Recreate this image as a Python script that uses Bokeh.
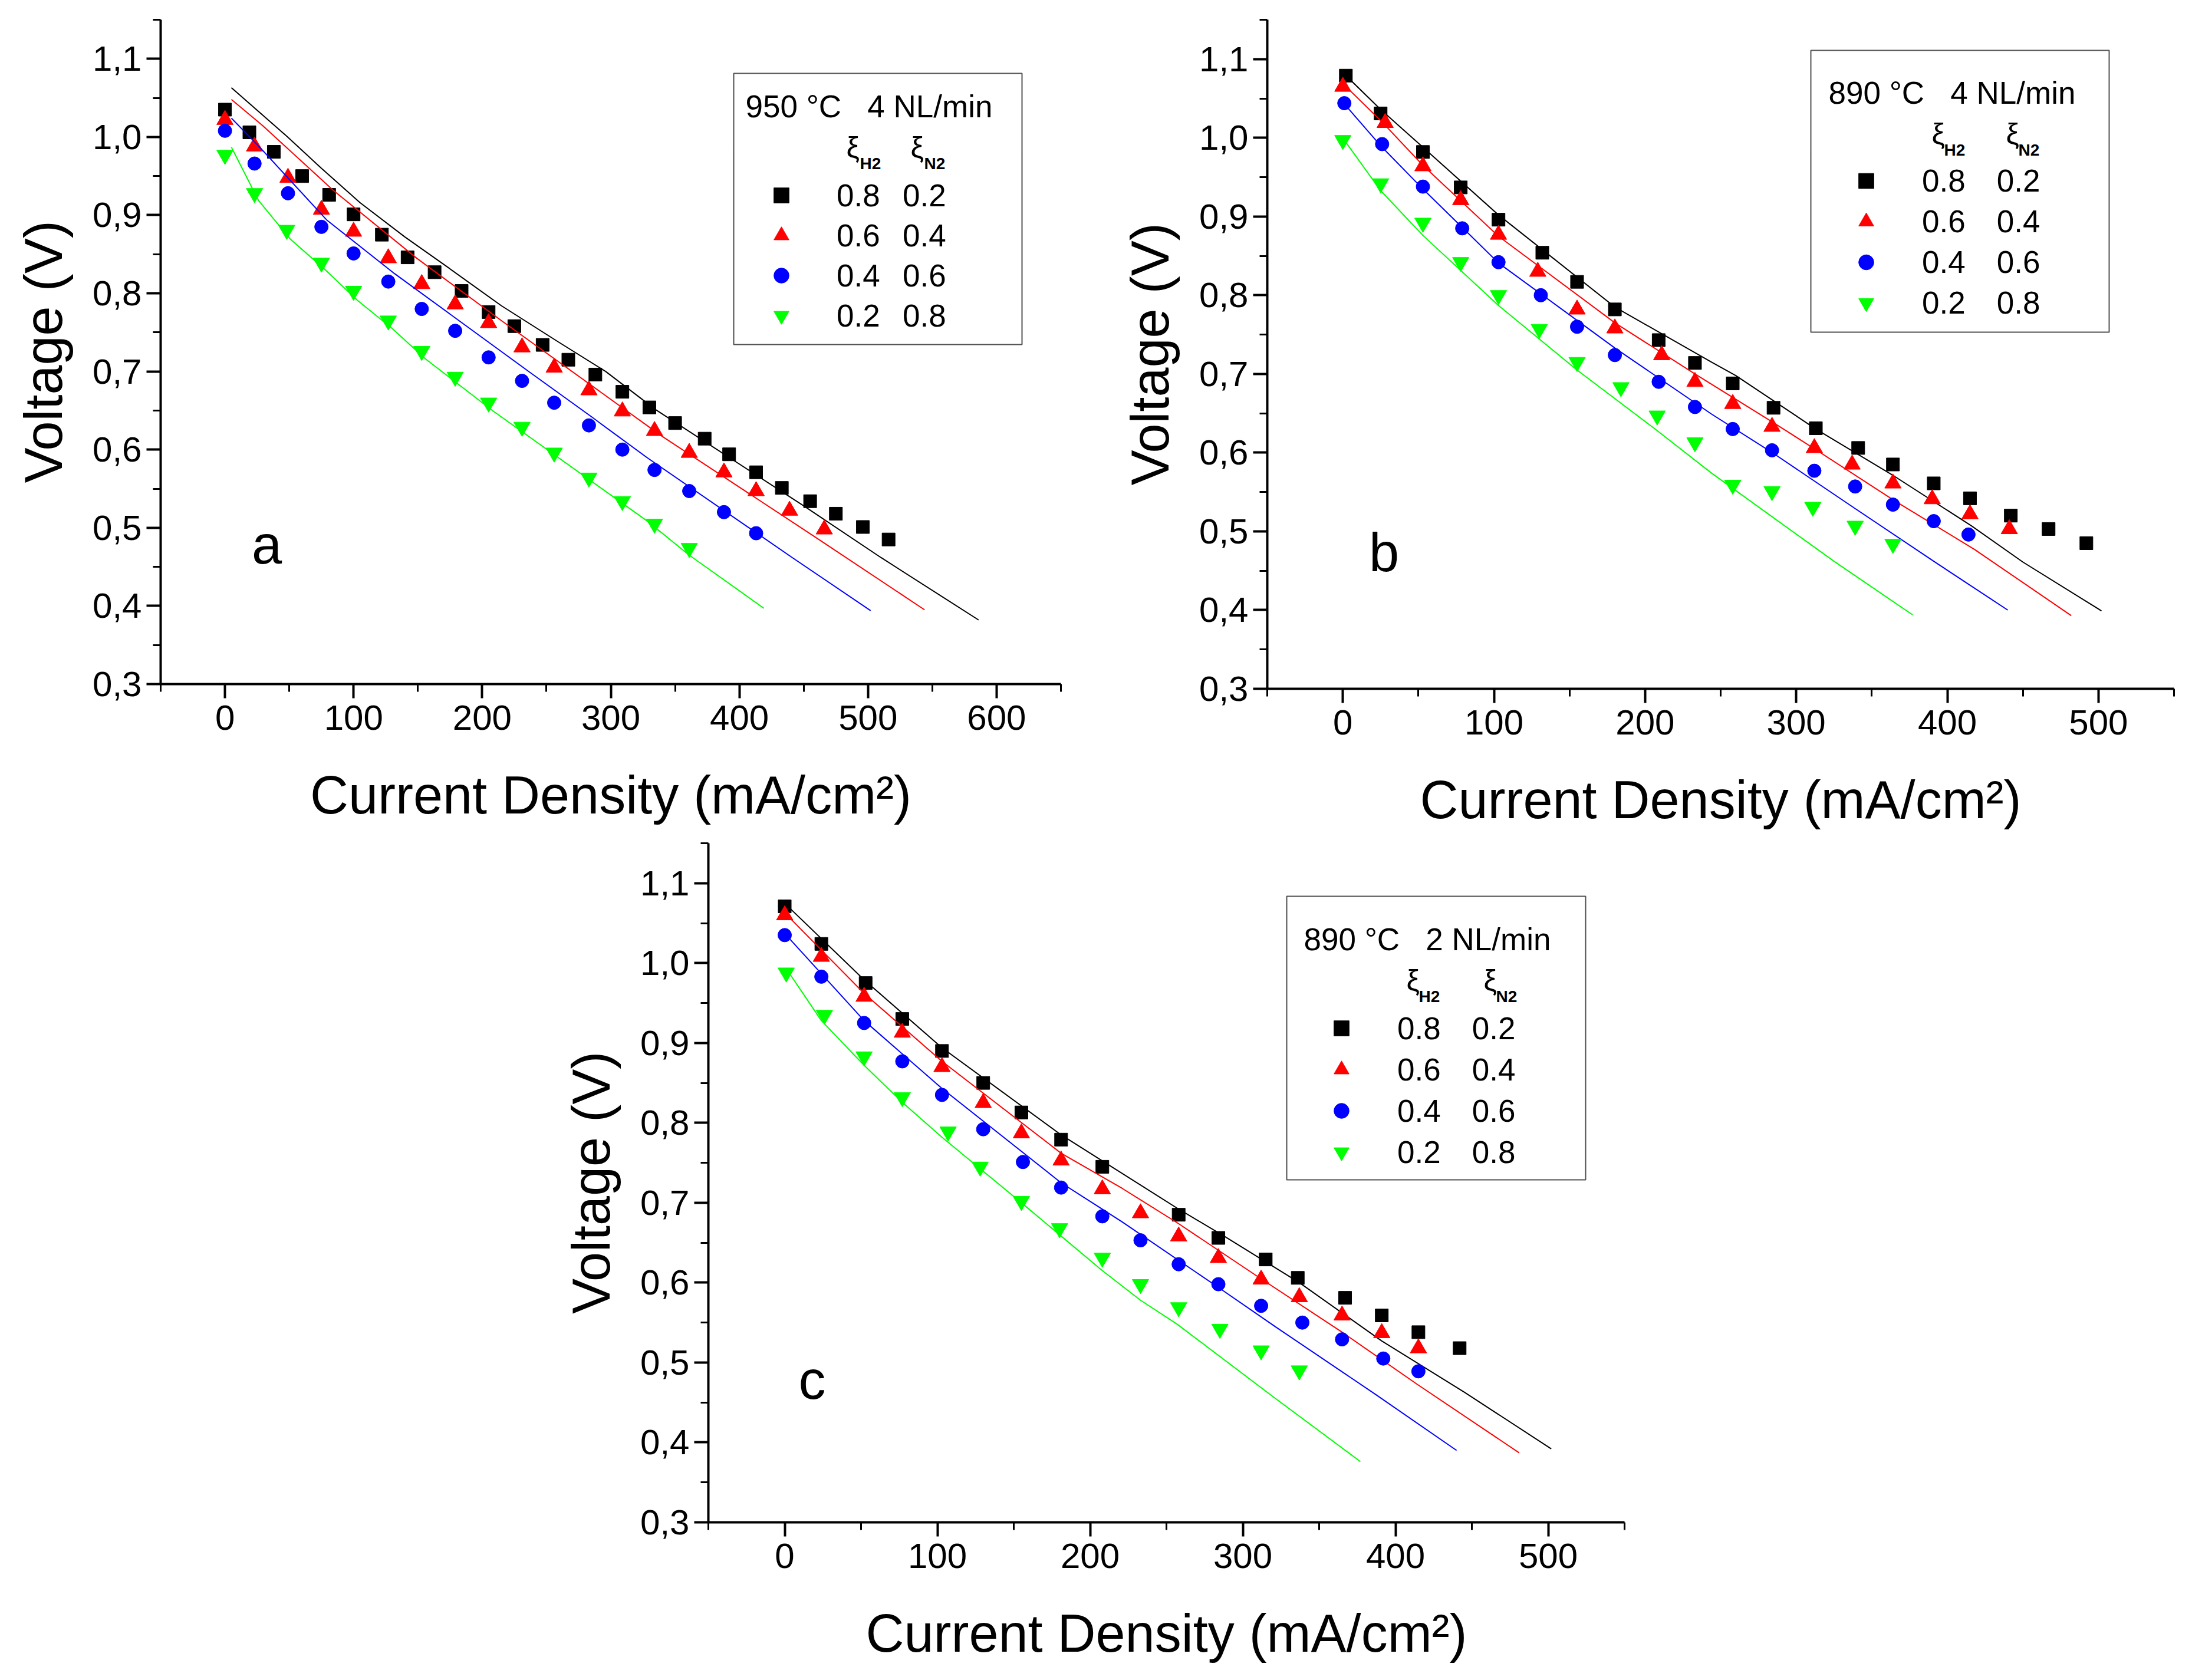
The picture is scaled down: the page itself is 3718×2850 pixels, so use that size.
from bokeh.plotting import figure
from bokeh.models import (Range1d, FixedTicker, CustomJSTickFormatter, Legend, LegendItem,
                          Label, BoxAnnotation, Spacer)
from bokeh.layouts import column, row
from bokeh.embed import file_html
from bokeh.resources import INLINE

FONT = "Liberation Sans"

# ---------------- data ----------------
# axis ticks
Y_MAJOR = [0.3, 0.4, 0.5, 0.6, 0.7, 0.8, 0.9, 1.0, 1.1]
Y_MINOR = [0.35, 0.45, 0.55, 0.65, 0.75, 0.85, 0.95, 1.05, 1.15]
XA_MAJOR = [0, 100, 200, 300, 400, 500, 600]
XA_MINOR = [-50, 50, 150, 250, 350, 450, 550, 650]
XB_MAJOR = [0, 100, 200, 300, 400, 500]
XB_MINOR = [-50, 50, 150, 250, 350, 450, 550]

SERIES_H2 = ["0.8", "0.6", "0.4", "0.2"]
SERIES_N2 = ["0.2", "0.4", "0.6", "0.8"]
TEMPS = ["950 \u00b0C", "890 \u00b0C", "890 \u00b0C"]
FLOWS = ["4 NL/min", "4 NL/min", "2 NL/min"]
PANEL_LETTERS = ["a", "b", "c"]
X_TITLE = "Current Density (mA/cm\u00b2)"
Y_TITLE = "Voltage (V)"

# panel a (950 C, 4 NL/min)
A_SQ_X = [0, 19, 38, 60, 81, 100, 122, 142, 163, 184, 205, 225, 247, 267, 288, 309, 330, 350, 373, 392, 413, 433, 455, 475, 496, 516]
A_SQ_Y = [1.035, 1.006, 0.981, 0.950, 0.926, 0.901, 0.875, 0.846, 0.827, 0.803, 0.776, 0.758, 0.734, 0.715, 0.696, 0.674, 0.654, 0.634, 0.614, 0.594, 0.571, 0.551, 0.534, 0.518, 0.501, 0.485]
A_TR_X = [0, 23, 49, 75, 100, 127, 153, 179, 205, 231, 256, 283, 309, 334, 361, 388, 413, 439, 466]
A_TR_Y = [1.022, 0.988, 0.948, 0.907, 0.879, 0.845, 0.812, 0.786, 0.762, 0.731, 0.705, 0.676, 0.649, 0.624, 0.596, 0.571, 0.547, 0.522, 0.498]
A_CI_X = [0, 23, 49, 75, 100, 127, 153, 179, 205, 231, 256, 283, 309, 334, 361, 388, 413]
A_CI_Y = [1.008, 0.966, 0.928, 0.885, 0.851, 0.815, 0.780, 0.752, 0.718, 0.688, 0.660, 0.631, 0.600, 0.574, 0.547, 0.520, 0.493]
A_IT_X = [0, 23, 48, 75, 100, 127, 153, 179, 205, 231, 256, 283, 309, 334, 361]
A_IT_Y = [0.977, 0.928, 0.881, 0.839, 0.803, 0.765, 0.726, 0.693, 0.660, 0.629, 0.596, 0.564, 0.534, 0.505, 0.474]
A_FK_X = [5, 48, 75, 105, 140, 171, 215, 259, 296, 335, 450, 510, 586]
A_FK_Y = [1.063, 1.001, 0.960, 0.916, 0.872, 0.836, 0.784, 0.738, 0.700, 0.651, 0.528, 0.462, 0.382]
A_FR_X = [5, 29, 84, 149, 215, 296, 339, 460, 544]
A_FR_Y = [1.048, 1.015, 0.932, 0.845, 0.765, 0.669, 0.618, 0.487, 0.395]
A_FB_X = [5, 27, 79, 132, 182, 237, 285, 328, 441, 502]
A_FB_Y = [1.024, 0.987, 0.894, 0.825, 0.765, 0.699, 0.642, 0.590, 0.462, 0.394]
A_FG_X = [5, 26, 51, 78, 103, 130, 156, 182, 208, 328, 361, 419]
A_FG_Y = [0.987, 0.919, 0.869, 0.830, 0.791, 0.755, 0.716, 0.683, 0.650, 0.509, 0.465, 0.397]

# panel b (890 C, 4 NL/min)
B_SQ_X = [2, 25, 53, 78, 103, 132, 155, 180, 209, 233, 258, 285, 313, 341, 364, 391, 415, 442, 467, 492]
B_SQ_Y = [1.079, 1.031, 0.982, 0.937, 0.896, 0.854, 0.817, 0.782, 0.743, 0.714, 0.688, 0.657, 0.631, 0.606, 0.585, 0.561, 0.542, 0.520, 0.503, 0.485]
B_TR_X = [0, 28, 53, 78, 103, 129, 155, 180, 211, 233, 258, 284, 312, 337, 364, 390, 415, 441]
B_TR_Y = [1.065, 1.019, 0.964, 0.921, 0.877, 0.830, 0.782, 0.758, 0.724, 0.690, 0.662, 0.633, 0.606, 0.585, 0.561, 0.541, 0.522, 0.503]
B_CI_X = [1, 26, 53, 79, 103, 131, 155, 180, 209, 233, 258, 284, 312, 339, 364, 391, 414]
B_CI_Y = [1.044, 0.992, 0.938, 0.885, 0.842, 0.800, 0.760, 0.724, 0.690, 0.658, 0.630, 0.603, 0.577, 0.557, 0.534, 0.513, 0.496]
B_IT_X = [0, 25, 53, 78, 103, 130, 155, 184, 208, 233, 258, 284, 311, 339, 364]
B_IT_Y = [0.997, 0.942, 0.892, 0.842, 0.800, 0.757, 0.715, 0.683, 0.647, 0.613, 0.559, 0.551, 0.531, 0.507, 0.484]
B_FK_X = [1, 25, 53, 103, 180, 244, 260, 313, 365, 416, 450, 502]
B_FK_Y = [1.081, 1.036, 0.988, 0.902, 0.785, 0.715, 0.698, 0.630, 0.570, 0.507, 0.461, 0.399]
B_FR_X = [1, 25, 53, 103, 180, 233, 285, 312, 365, 418, 482]
B_FR_Y = [1.067, 1.022, 0.965, 0.875, 0.765, 0.700, 0.638, 0.605, 0.539, 0.477, 0.393]
B_FB_X = [1, 25, 53, 103, 180, 244, 285, 339, 391, 440]
B_FB_Y = [1.043, 0.990, 0.935, 0.841, 0.733, 0.649, 0.599, 0.529, 0.462, 0.400]
B_FG_X = [1, 25, 53, 103, 155, 208, 244, 325, 377]
B_FG_Y = [0.997, 0.933, 0.876, 0.787, 0.705, 0.628, 0.574, 0.462, 0.394]

# panel c (890 C, 2 NL/min)
C_SQ_X = [0, 24, 53, 77, 103, 130, 155, 181, 208, 258, 284, 315, 336, 367, 391, 415, 442]
C_SQ_Y = [1.071, 1.024, 0.975, 0.930, 0.890, 0.850, 0.813, 0.779, 0.745, 0.685, 0.656, 0.629, 0.606, 0.581, 0.559, 0.538, 0.518]
C_TR_X = [0, 24, 52, 77, 103, 130, 155, 181, 208, 233, 258, 284, 312, 337, 365, 391, 415]
C_TR_Y = [1.060, 1.008, 0.958, 0.913, 0.870, 0.825, 0.787, 0.753, 0.717, 0.687, 0.658, 0.631, 0.604, 0.582, 0.559, 0.537, 0.518]
C_CI_X = [0, 24, 52, 77, 103, 130, 156, 181, 208, 233, 258, 284, 312, 339, 365, 392, 415]
C_CI_Y = [1.035, 0.983, 0.925, 0.877, 0.835, 0.792, 0.751, 0.719, 0.683, 0.653, 0.623, 0.598, 0.571, 0.550, 0.529, 0.505, 0.489]
C_IT_X = [1, 26, 52, 77, 107, 128, 155, 180, 208, 233, 258, 285, 312, 337]
C_IT_Y = [0.988, 0.935, 0.883, 0.832, 0.789, 0.745, 0.702, 0.668, 0.631, 0.598, 0.569, 0.542, 0.515, 0.490]
C_FK_X = [1, 52, 103, 181, 258, 288, 337, 391, 445, 502]
C_FK_Y = [1.073, 0.979, 0.894, 0.785, 0.692, 0.658, 0.600, 0.527, 0.463, 0.392]
C_FR_X = [1, 52, 103, 181, 221, 257, 311, 365, 414, 481]
C_FR_Y = [1.061, 0.962, 0.877, 0.762, 0.718, 0.675, 0.606, 0.538, 0.473, 0.387]
C_FB_X = [1, 52, 103, 181, 221, 284, 322, 387, 440]
C_FB_Y = [1.035, 0.928, 0.843, 0.725, 0.676, 0.594, 0.544, 0.460, 0.390]
C_FG_X = [1, 24, 52, 78, 103, 155, 208, 233, 257, 320, 377]
C_FG_Y = [0.993, 0.928, 0.872, 0.824, 0.782, 0.700, 0.615, 0.578, 0.548, 0.457, 0.376]

COLORS = ["#000000", "#ff0000", "#0000ff", "#00ff00"]
MARKERS = ["square", "triangle", "circle", "inverted_triangle"]
MSIZE = [22, 28, 23, 28]

# ---------------- layout (pixels of the page) ----------------
PAGE = 8
Y0, Y1 = 0.3, 1.15
NB = "\u00a0"
PANELS = {
    "a": dict(left=280, top=41, w=1527, h=1127, xr=(-50, 650), major=XA_MAJOR, minor=XA_MINOR,
              bl=272, bt=33, br=90, bb=257,
              box=(1252, 132, 1741, 592), title=(1272, 202), xi=(1443, 1552), sub=(1466, 1575),
              xib=270, subb=292, row1=337, rowh=68.3, mk=1333, lab=1427, gap=NB * 2 + "\u2006",
              letter=(460, 955)),
    "b": dict(left=2157, top=36, w=1538, h=1135, xr=(-50, 550), major=XB_MAJOR, minor=XB_MINOR,
              bl=260, bt=28, br=12, bb=254,
              box=(3079, 88, 3585, 566), title=(3109, 174), xi=(3284, 3410), sub=(3305, 3431),
              xib=242, subb=264, row1=309, rowh=69, mk=3173, lab=3268, gap=NB * 3 + "\u2006",
              letter=(2355, 963)),
    "c": dict(left=1209, top=1438, w=1554, h=1152, xr=(-50, 550), major=XB_MAJOR, minor=XB_MINOR,
              bl=272, bt=13, br=20, bb=248,
              box=(2190, 1528, 2697, 2009), title=(2219, 1615), xi=(2393, 2524), sub=(2414, 2545),
              xib=1683, subb=1705, row1=1750, rowh=70.3, mk=2283, lab=2378, gap=NB * 3 + "\u2006",
              letter=(1385, 2372)),
}
# the SVG text of a Label sits a little low against its alphabetic baseline
BASE_SHIFT = 0.26

DATA = {
    "a": [(A_SQ_X, A_SQ_Y, A_FK_X, A_FK_Y), (A_TR_X, A_TR_Y, A_FR_X, A_FR_Y),
          (A_CI_X, A_CI_Y, A_FB_X, A_FB_Y), (A_IT_X, A_IT_Y, A_FG_X, A_FG_Y)],
    "b": [(B_SQ_X, B_SQ_Y, B_FK_X, B_FK_Y), (B_TR_X, B_TR_Y, B_FR_X, B_FR_Y),
          (B_CI_X, B_CI_Y, B_FB_X, B_FB_Y), (B_IT_X, B_IT_Y, B_FG_X, B_FG_Y)],
    "c": [(C_SQ_X, C_SQ_Y, C_FK_X, C_FK_Y), (C_TR_X, C_TR_Y, C_FR_X, C_FR_Y),
          (C_CI_X, C_CI_Y, C_FB_X, C_FB_Y), (C_IT_X, C_IT_Y, C_FG_X, C_FG_Y)],
}


def make_panel(key, idx):
    P = PANELS[key]
    x0, x1 = P["xr"]

    def dx(px):
        return x0 + (px - P["left"]) / P["w"] * (x1 - x0)

    def dy(py):
        return Y1 - (py - P["top"]) / P["h"] * (Y1 - Y0)

    def text(px, pyb, s, size, **kw):
        # pyb: alphabetic baseline in page pixels
        return Label(x=dx(px), y=dy(pyb - BASE_SHIFT * size), text=s, text_font=FONT,
                     text_font_size=f"{size}px", text_baseline="alphabetic",
                     text_color="black", **kw)

    p = figure(frame_width=P["w"], frame_height=P["h"],
               x_range=Range1d(x0, x1), y_range=Range1d(Y0, Y1),
               output_backend="svg", toolbar_location=None,
               min_border_left=P["bl"], min_border_right=P["br"],
               min_border_top=P["bt"], min_border_bottom=P["bb"],
               background_fill_color="white", border_fill_color="white")
    p.grid.visible = False
    p.outline_line_color = None

    p.xaxis.ticker = FixedTicker(ticks=P["major"], minor_ticks=P["minor"])
    p.yaxis.ticker = FixedTicker(ticks=Y_MAJOR, minor_ticks=Y_MINOR)
    p.yaxis.formatter = CustomJSTickFormatter(code="return tick.toFixed(1).replace('.', ',');")
    p.xaxis.formatter = CustomJSTickFormatter(code="return tick.toFixed(0);")
    p.xaxis.axis_label = X_TITLE
    p.yaxis.axis_label = Y_TITLE
    for ax in (p.xaxis[0], p.yaxis[0]):
        ax.axis_line_width = 4
        ax.axis_line_color = "black"
        ax.major_tick_line_width = 4
        ax.minor_tick_line_width = 3
        ax.major_tick_line_color = "black"
        ax.minor_tick_line_color = "black"
        ax.major_tick_out = 24
        ax.major_tick_in = 0
        ax.minor_tick_out = 13
        ax.minor_tick_in = 0
        ax.major_label_text_font = FONT
        ax.major_label_text_font_size = "60px"
        ax.major_label_text_color = "black"
        ax.axis_label_text_font = FONT
        ax.axis_label_text_font_size = "90px"
        ax.axis_label_text_font_style = "normal"
        ax.axis_label_text_color = "black"
    p.xaxis.major_label_standoff = 12
    p.xaxis.axis_label_standoff = 58
    p.yaxis.major_label_standoff = 8
    p.yaxis.axis_label_standoff = 30

    renderers = []
    for (sx, sy, fx, fy), col, mk, ms in zip(DATA[key], COLORS, MARKERS, MSIZE):
        p.line(fx, fy, line_color=col, line_width=2)
        r = p.scatter(sx, sy, marker=mk, size=ms, fill_color=col, line_color=col)
        renderers.append(r)

    # legend frame
    bx0, by0, bx1, by1 = P["box"]
    p.add_layout(BoxAnnotation(left=dx(bx0), right=dx(bx1), top=dy(by0), bottom=dy(by1),
                               fill_alpha=0, fill_color=None, line_color="#505050", line_width=2,
                               line_alpha=1))
    # legend title
    tx, tb = P["title"]
    p.add_layout(text(tx, tb, TEMPS[idx] + NB * 3 + FLOWS[idx], 53, text_align="left"))
    # header xi_H2 xi_N2
    for xl, sl, sub in zip(P["xi"], P["sub"], ["H2", "N2"]):
        p.add_layout(text(xl, P["xib"], "\u03be", 50, text_align="left"))
        p.add_layout(text(sl, P["subb"], sub, 28, text_align="left", text_font_style="bold"))

    glyph_w = 64
    rowh = P["rowh"]
    items = [LegendItem(label=h + P["gap"] + n, renderers=[r])
             for h, n, r in zip(SERIES_H2, SERIES_N2, renderers)]
    leg_left = P["mk"] - glyph_w / 2
    leg_bottom = P["row1"] + 3 * rowh + rowh / 2
    frame_bottom = P["top"] + P["h"]
    legend = Legend(items=items, location=(int(leg_left - P["left"]), int(frame_bottom - leg_bottom)),
                    orientation="vertical", border_line_color=None, background_fill_alpha=0,
                    padding=0, margin=0, spacing=0, glyph_width=glyph_w, glyph_height=int(round(rowh)),
                    label_height=int(round(rowh)), label_standoff=int(P["lab"] - leg_left - glyph_w),
                    label_text_font=FONT, label_text_font_size="53px", label_text_color="black")
    p.add_layout(legend)

    lx, lb = P["letter"]
    p.add_layout(text(lx, lb, PANEL_LETTERS[idx], 92, text_align="center"))
    return p


pa = make_panel("a", 0)
pb = make_panel("b", 1)
pc = make_panel("c", 2)

spacer_w = PANELS["c"]["left"] - PAGE - PANELS["c"]["bl"]
layout = column(row(pa, pb), row(Spacer(width=spacer_w, height=10), pc))

open("out.html", "w").write(file_html(layout, INLINE, title="Voltage vs current density"))
